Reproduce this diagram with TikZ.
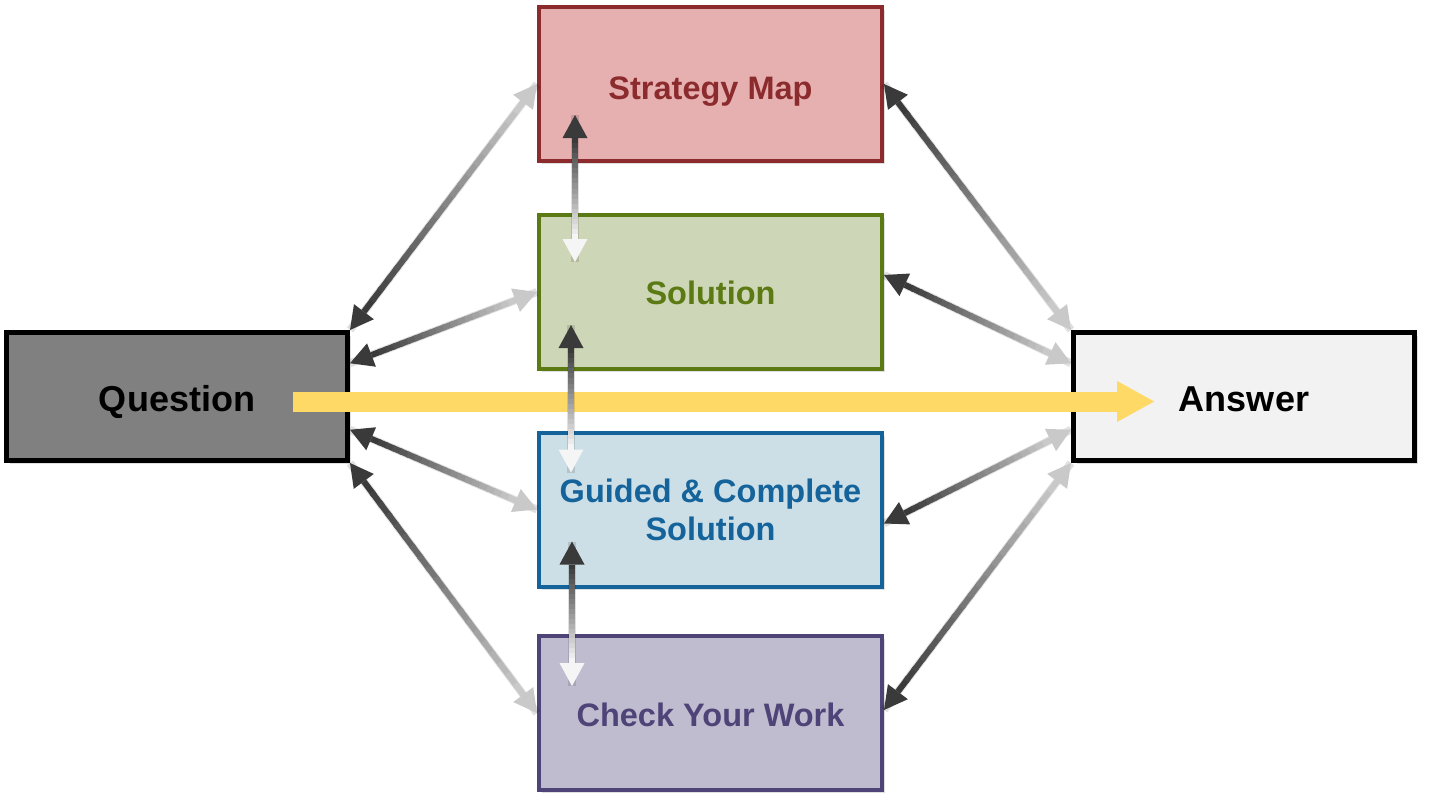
\documentclass[tikz,border=0pt]{standalone}
\usepackage{fontspec}
\setmainfont{Liberation Sans}
\usetikzlibrary{calc,arrows.meta,shadows}

\definecolor{smfill}{HTML}{E6B0B1}
\definecolor{smline}{HTML}{8C2B2D}
\definecolor{solfill}{HTML}{CDD6B6}
\definecolor{solline}{HTML}{5C7A14}
\definecolor{gdfill}{HTML}{CCDEE6}
\definecolor{gdline}{HTML}{15639B}
\definecolor{ckfill}{HTML}{C0BCD0}
\definecolor{ckline}{HTML}{4F4478}
\definecolor{qfill}{HTML}{808080}
\definecolor{afill}{HTML}{F2F2F2}
\definecolor{ylw}{HTML}{FFD966}
\definecolor{adark}{HTML}{3A3A3A}
\definecolor{alight}{HTML}{C9C9C9}
\definecolor{awhite}{HTML}{F5F5F5}

\tikzset{
  box/.style={rectangle, line width=4pt, minimum width=343pt, minimum height=154pt,
    inner sep=0pt, align=center, font=\bfseries\fontsize{32.5}{38}\selectfont,
    drop shadow={shadow xshift=3pt, shadow yshift=-3pt, opacity=.25}},
  endbox/.style={box, line width=5pt, minimum width=341pt, minimum height=128pt,
    font=\bfseries\fontsize{36}{42}\selectfont, draw=black, text=black,
    text height=29pt, text depth=0pt}
}

% double arrow, dark tip at #1, light tip at #2
\newcommand{\garrow}[4]{
  \draw[black, opacity=.12, line width=8pt, xshift=2pt, yshift=-2pt] (#1) -- (#2);
  \coordinate (ga) at ($(#1)!23pt!(#2)$);
  \coordinate (gb) at ($(#2)!23pt!(#1)$);
  \foreach \k in {0,...,19}{
    \pgfmathsetmacro{\mix}{max(0,100-\k*100/19)}
    \pgfmathsetmacro{\ta}{\k/20}
    \pgfmathsetmacro{\tb}{(\k+1.3)/20}
    \draw[line width=6pt, draw=#3!\mix!#4] ($(ga)!\ta!(gb)$) -- ($(ga)!\tb!(gb)$);
  }
  \fill[#3] (#1) -- ($(ga)!12.5pt!90:(#2)$) -- ($(ga)!12.5pt!-90:(#2)$) -- cycle;
  \fill[#4] (#2) -- ($(gb)!12.5pt!90:(#1)$) -- ($(gb)!12.5pt!-90:(#1)$) -- cycle;
}

\begin{document}
\begin{tikzpicture}[x=1pt,y=-1pt]
\useasboundingbox (0,0) rectangle (1430,806);

\node[box, fill=smfill, draw=smline, text=smline, text height=31pt, text depth=0pt] (strat) at (710.5,84) {Strategy Map};
\node[box, fill=solfill, draw=solline, text=solline, text height=25pt, text depth=0pt] (sol) at (710.5,292) {Solution};
\node[box, fill=gdfill, draw=gdline, text=gdline] (guid) at (710.5,509.5) {Guided \& Complete\\Solution};
\node[box, fill=ckfill, draw=ckline, text=ckline, text height=27pt, text depth=0pt] (check) at (710.5,713) {Check Your Work};
\node[endbox, fill=qfill] (quest) at (177,396.5) {Question};
\node[endbox, fill=afill] (ans) at (1244,396.5) {Answer};

% main path
\coordinate (ystart) at ($(quest.center)+(116,5)$);
\coordinate (yend) at ($(ans.center)+(-89,5)$);
\draw[ylw, line width=20pt, -{Triangle[length=38pt,width=38pt]}] (ystart) -- (yend);

% end points
\coordinate (q1) at (quest.north east);
\coordinate (q2) at ($(quest.north east)!.25!(quest.south east)$);
\coordinate (q3) at ($(quest.north east)!.75!(quest.south east)$);
\coordinate (q4) at (quest.south east);
\coordinate (a1) at (ans.north west);
\coordinate (a2) at ($(ans.north west)!.25!(ans.south west)$);
\coordinate (a3) at ($(ans.north west)!.75!(ans.south west)$);
\coordinate (a4) at (ans.south west);
\coordinate (solr) at ($(sol.east)+(0,-17)$);
\coordinate (guidr) at ($(guid.east)+(0,14)$);
\coordinate (checkr) at ($(check.east)+(0,-3)$);

\garrow{q1}{strat.west}{adark}{alight}
\garrow{q2}{sol.west}{adark}{alight}
\garrow{q3}{guid.west}{adark}{alight}
\garrow{q4}{check.west}{adark}{alight}

\garrow{strat.east}{a1}{adark}{alight}
\garrow{solr}{a2}{adark}{alight}
\garrow{guidr}{a3}{adark}{alight}
\garrow{checkr}{a4}{adark}{alight}

% up and down
\coordinate (sm1) at ($(strat.south west)+(38,-48)$);
\coordinate (so1) at ($(sol.north west)+(38,49)$);
\coordinate (so2) at ($(sol.south west)+(34,-46)$);
\coordinate (gd1) at ($(guid.north west)+(34,42)$);
\coordinate (gd2) at ($(guid.south west)+(35,-47)$);
\coordinate (ck1) at ($(check.north west)+(35,52)$);
\garrow{sm1}{so1}{adark}{awhite}
\garrow{so2}{gd1}{adark}{awhite}
\garrow{gd2}{ck1}{adark}{awhite}
\end{tikzpicture}
\end{document}
